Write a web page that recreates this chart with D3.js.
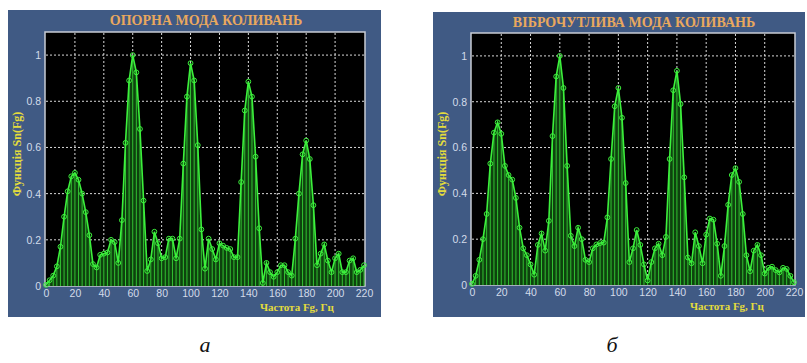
<!DOCTYPE html>
<html><head><meta charset="utf-8">
<script src="https://cdn.jsdelivr.net/npm/d3@7"></script>
<style>
html,body{margin:0;padding:0;background:#fff;}
svg{display:block;}
</style>
</head><body>
<svg id="chart" width="807" height="363"></svg>
<script>
// ---- data ----
const freqs = [0,2.5,5,7.5,10,12.5,15,17.5,20,22.5,25,27.5,30,32.5,35,37.5,40,42.5,45,47.5,
  50,52.5,55,57.5,60,62.5,65,67.5,70,72.5,75,77.5,80,82.5,85,87.5,90,92.5,95,97.5,
  100,102.5,105,107.5,110,112.5,115,117.5,120,122.5,125,127.5,130,132.5,135,137.5,140,142.5,145,147.5,
  150,152.5,155,157.5,160,162.5,165,167.5,170,172.5,175,177.5,180,182.5,185,187.5,190,192.5,195,197.5,
  200,202.5,205,207.5,210,212.5,215,217.5,220];
const opornaValues = [0.005,0.025,0.045,0.085,0.17,0.30,0.41,0.475,0.49,0.46,
  0.40,0.32,0.22,0.095,0.08,0.135,0.14,0.145,0.20,0.19,
  0.10,0.285,0.62,0.89,1.0,0.925,0.68,0.37,0.065,0.115,
  0.235,0.185,0.12,0.125,0.205,0.205,0.12,0.205,0.53,0.82,
  0.965,0.89,0.61,0.245,0.075,0.205,0.16,0.115,0.185,0.175,
  0.165,0.16,0.125,0.125,0.45,0.76,0.885,0.82,0.56,0.25,
  0.013,0.10,0.06,0.04,0.06,0.09,0.09,0.06,0.045,0.205,
  0.40,0.57,0.63,0.55,0.35,0.09,0.14,0.18,0.11,0.06,
  0.12,0.14,0.06,0.06,0.11,0.12,0.06,0.07,0.09];
const vibroValues = [0.005,0.04,0.11,0.20,0.31,0.53,0.665,0.71,0.66,0.52,
  0.48,0.46,0.38,0.25,0.16,0.13,0.09,0.045,0.175,0.225,
  0.15,0.28,0.65,0.91,1.0,0.86,0.52,0.215,0.17,0.25,
  0.20,0.11,0.10,0.16,0.177,0.183,0.185,0.295,0.55,0.78,
  0.86,0.73,0.445,0.10,0.16,0.24,0.175,0.09,0.02,0.10,
  0.16,0.18,0.13,0.21,0.55,0.85,0.935,0.79,0.47,0.12,
  0.095,0.23,0.17,0.095,0.22,0.29,0.285,0.18,0.04,0.17,
  0.35,0.48,0.51,0.45,0.31,0.13,0.06,0.15,0.175,0.13,
  0.05,0.075,0.08,0.065,0.055,0.075,0.07,0.04,0.012];
const xTicks = [0,20,40,60,80,100,120,140,160,180,200,220];
const yTicks = [0,0.2,0.4,0.6,0.8,1];
const yTickLabels = ["0","0.2","0.4","0.6","0.8","1"];
const titles = ["ОПОРНА МОДА КОЛИВАНЬ","ВІБРОЧУТЛИВА МОДА КОЛИВАНЬ"];
const yLabel = "Функція Sn(Fg)";
const xLabel = "Частота Fg, Гц";
const captions = ["а","б"];

// ---- layout ----
const panels = [
  {box:[8,10,373,307], plot:[45,32,365,286], values:opornaValues, title:titles[0], caption:captions[0], capX:205},
  {box:[433,12,372,305], plot:[471,33,795,285], values:vibroValues, title:titles[1], caption:captions[1], capX:612}
];

const svg = d3.select("#chart");
const green = "#3cf03c";

panels.forEach(p => {
  const g = svg.append("g");
  const [bx,by,bw,bh] = p.box;
  const [l,t,r,b] = p.plot;
  g.append("rect").attr("x",bx).attr("y",by).attr("width",bw).attr("height",bh).attr("fill","#405a84");

  const x = d3.scaleLinear().domain([0,220]).range([l+1,r-1]);
  const y = d3.scaleLinear().domain([0,1.1]).range([b,t]);

  g.append("rect").attr("x",l).attr("y",t).attr("width",r-l).attr("height",b-t)
    .attr("fill","#000").attr("stroke","#c8ccd4").attr("stroke-width",1.5);

  const grid = g.append("g").attr("stroke","#d8d8d8").attr("stroke-width",1).attr("stroke-dasharray","2,2");
  xTicks.filter(v=>v>0 && v<220).forEach(v=>{
    grid.append("line").attr("x1",x(v)).attr("x2",x(v)).attr("y1",t+1).attr("y2",b-1);
  });
  yTicks.filter(v=>v>0).forEach(v=>{
    grid.append("line").attr("x1",l+1).attr("x2",r-1).attr("y1",y(v)).attr("y2",y(v));
  });

  const data = freqs.map((f,i)=>({f, v:p.values[i]}));

  g.append("path").datum(data)
    .attr("d", d3.area().x(d=>x(d.f)).y0(y(0)).y1(d=>y(d.v)))
    .attr("fill","#0e420e");
  g.append("g").selectAll("line").data(data).join("line")
    .attr("x1",d=>x(d.f)).attr("x2",d=>x(d.f)).attr("y1",y(0)).attr("y2",d=>y(d.v))
    .attr("stroke","#32c032").attr("stroke-width",1);
  g.append("path").datum(data)
    .attr("d", d3.line().x(d=>x(d.f)).y(d=>y(d.v)))
    .attr("fill","none").attr("stroke",green).attr("stroke-width",1.6);
  g.append("g").selectAll("circle").data(data).join("circle")
    .attr("cx",d=>x(d.f)).attr("cy",d=>y(d.v)).attr("r",2.4)
    .attr("fill","none").attr("stroke",green).attr("stroke-width",1);

  const xAxis = g.append("g").attr("transform",`translate(0,${b})`)
    .call(d3.axisBottom(x).tickValues(xTicks).tickSize(0).tickPadding(4).tickFormat(d3.format("d")));
  const yAxis = g.append("g").attr("transform",`translate(${l},0)`)
    .call(d3.axisLeft(y).tickValues(yTicks).tickSize(0).tickPadding(4).tickFormat((d,i)=>yTickLabels[i]));
  [xAxis,yAxis].forEach(a=>{
    a.select(".domain").remove();
    a.selectAll("text").attr("fill","#d4dcea").style("font-family","Liberation Sans, Arial, sans-serif").style("font-size","10.5px");
  });

  g.append("text").attr("x",(l+r)/2+1).attr("y",by+15).attr("text-anchor","middle")
    .attr("fill","#e9a85e").style("font-family","Liberation Serif, serif").style("font-weight","bold").style("font-size","14px")
    .text(p.title);
  g.append("text").attr("transform",`translate(${bx+13},${(t+b)/2-5}) rotate(-90)`).attr("text-anchor","middle")
    .attr("fill","#e4dc3c").style("font-family","Liberation Serif, serif").style("font-weight","bold").style("font-size","12px")
    .text(yLabel);
  g.append("text").attr("x",r-68).attr("y",b+25).attr("text-anchor","middle")
    .attr("fill","#e4dc3c").style("font-family","Liberation Serif, serif").style("font-weight","bold").style("font-size","11px")
    .text(xLabel);
  svg.append("text").attr("x",p.capX).attr("y",352).attr("text-anchor","middle")
    .attr("fill","#111").style("font-family","Liberation Serif, serif").style("font-style","italic").style("font-size","22px")
    .text(p.caption);
});
</script>
</body></html>
